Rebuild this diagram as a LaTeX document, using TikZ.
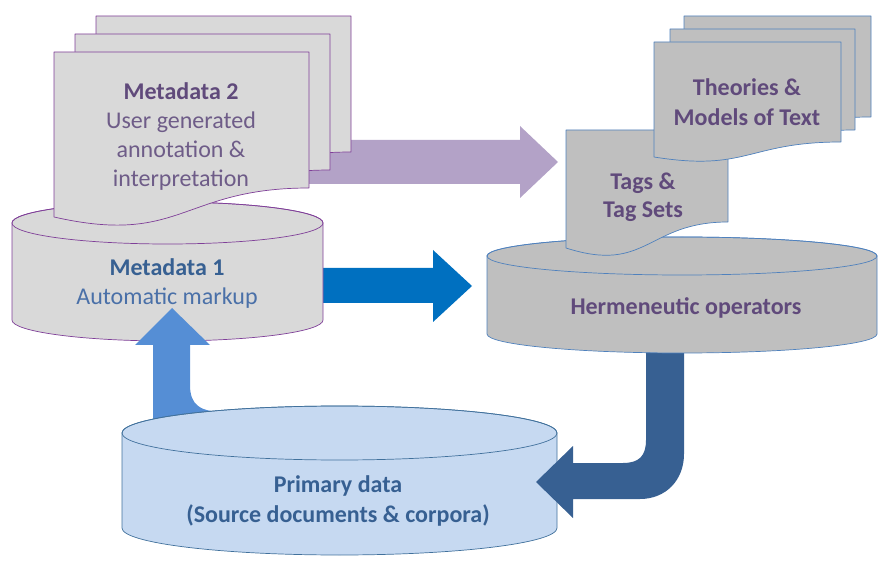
\documentclass[tikz,border=0pt]{standalone}
\usepackage{fontspec}
\setmainfont{Carlito}
\begin{document}
\begin{tikzpicture}[x=1pt,y=1pt,line join=round]
\definecolor{lgray}{HTML}{D9D9D9}
\definecolor{mgray}{HTML}{BFBFBF}
\definecolor{purp}{HTML}{7F3F98}
\definecolor{hblue}{HTML}{4F81BD}
\definecolor{pfill}{HTML}{C6D9F1}
\definecolor{pline}{HTML}{41719C}
\definecolor{arrpurp}{HTML}{B3A2C7}
\definecolor{arrblue}{HTML}{0070C0}
\definecolor{arrlight}{HTML}{558ED5}
\definecolor{arrdark}{HTML}{376092}
\definecolor{tpurp}{HTML}{604A7B}
\definecolor{tpurpl}{HTML}{6E5C88}
\definecolor{tblue}{HTML}{376092}
\definecolor{tbluel}{HTML}{4A70A8}
\tikzset{
  mdshape/.style={fill=lgray,draw=purp,line width=0.7pt},
  hshape/.style={fill=mgray,draw=hblue,line width=0.7pt},
  pshape/.style={fill=pfill,draw=pline,line width=0.7pt},
  lbl/.style={align=center,font=\fontsize{24}{29}\selectfont},
}
\newcommand{\mydoc}[6]{%
  \path[#6] (#1,#3) -- (#2,#3) -- (#2,#4) .. controls ({(#1+#2)/2},#4) and ({(#1+#2)/2},{2*#5-#4}) .. (#1,#5) -- cycle;}
\newcommand{\mycyl}[6]{% cx rx ytop ybot ry style
  \path[#6] ({#1-#2},#3) -- ({#1-#2},#4) arc[start angle=180,end angle=360,x radius=#2,y radius=#5] -- ({#1+#2},#3) arc[start angle=0,end angle=180,x radius=#2,y radius=#5] -- cycle;
  \path[#6,fill=none] (#1,#3) ellipse[x radius=#2,y radius=#5];}
\useasboundingbox (0,0) rectangle (878,560);

% purple arrow (behind docs)
\fill[arrpurp] (300,420) -- (520,420) -- (520,434) -- (558,398) -- (520,362) -- (520,376) -- (300,376) -- cycle;
% blue arrow M1 -> Herm
\fill[arrblue] (315,292) -- (433,292) -- (433,310) -- (472,274) -- (433,238) -- (433,257) -- (315,257) -- cycle;

% Metadata 1 cylinder
\mycyl{167.5}{155.5}{337}{240}{21}{mdshape}
% Metadata 2 documents
\mydoc{96}{351}{544}{408}{379}{mdshape}
\mydoc{75}{330}{526}{390}{361}{mdshape}
\mydoc{54}{309}{508}{372}{343}{mdshape}

% light blue arrow up
\fill[arrlight] (153,100) -- (153,215) -- (135,215) -- (172,252) -- (210,215) -- (190,215) -- (190,175) .. controls (190,155) and (200,148) .. (225,148) -- (225,100) -- cycle;
% Primary data cylinder
\mycyl{339.5}{217.5}{127}{32}{27}{pshape}

% dark blue curved arrow
\fill[arrdark] (646,240) -- (646,120) .. controls (646,104) and (639,97) .. (623,97) -- (573,97) -- (573,114) -- (536,78) -- (573,42) -- (573,61) -- (640,61) .. controls (666,61) and (684,80) .. (684,106) -- (684,240) -- cycle;
% Hermeneutic cylinder
\mycyl{682}{195}{304}{226}{19}{hshape}
% Tags doc
\mydoc{566}{728}{430}{338}{312}{hshape}
% Theories stack
\mydoc{684}{871}{544}{443}{428}{hshape}
\mydoc{670}{855}{531}{430}{415}{hshape}
\mydoc{654}{841}{518}{418}{403}{hshape}

% texts
\node[lbl] (m2) at (181,423) {{\color{tpurp}\bfseries Metadata 2}\\{\color{tpurpl}User generated}\\{\color{tpurpl}annotation \&}\\{\color{tpurpl}interpretation}};
\node[lbl] (m1) at (167,276) {{\color{tblue}\bfseries Metadata 1}\\{\color{tbluel}Automatic markup}};
\node[lbl,text=tblue,font=\fontsize{24}{30}\selectfont\bfseries] (pd) at (338,59) {Primary data\\(Source documents \& corpora)};
\node[lbl,text=tpurp,font=\fontsize{24}{29}\selectfont\bfseries] (ho) at (686,252) {Hermeneutic operators};
\node[lbl,text=tpurp,font=\fontsize{24}{28}\selectfont\bfseries] (tg) at (643,363) {Tags \&\\Tag Sets};
\node[lbl,text=tpurp,font=\fontsize{24}{30}\selectfont\bfseries] (th) at (747,458) {Theories \&\\Models of Text};
\end{tikzpicture}
\end{document}
